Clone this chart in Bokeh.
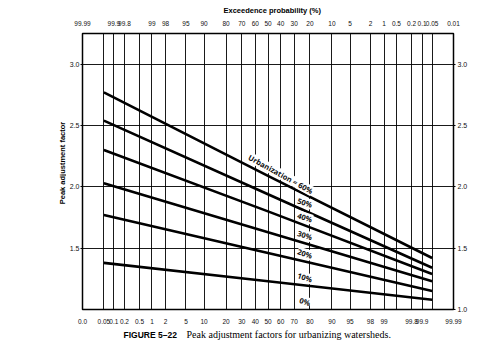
import math
import numpy as np
from bokeh.plotting import figure
from bokeh.models import FixedTicker, LinearAxis, Range1d, ColumnDataSource, Title
from bokeh.layouts import column, row
from bokeh.core.properties import value
from bokeh.embed import file_html
from bokeh.resources import INLINE

# ---------------- data ----------------
grid_probs = [0.01, 0.05, 0.1, 0.2, 0.5, 1, 2, 5, 10, 20, 30, 40, 50, 60, 70,
              80, 90, 95, 98, 99, 99.5, 99.8, 99.9, 99.95, 99.99]
bottom_probs = [0.01, 0.05, 0.1, 0.2, 0.5, 1, 2, 5, 10, 20, 30, 40, 50, 60, 70,
                80, 90, 95, 98, 99, 99.8, 99.9, 99.99]
bottom_labels = ["0.0", "0.05", "0.1", "0.2", "0.5", "1", "2", "5", "10", "20",
                 "30", "40", "50", "60", "70", "80", "90", "95", "98", "99",
                 "99.8", "99.9", "99.99"]
top_exceed = [99.99, 99.9, 99.8, 99, 98, 95, 90, 80, 70, 60, 50, 40, 30, 20,
              10, 5, 2, 1, 0.5, 0.2, 0.1, 0.05, 0.01]
top_labels = ["99.99", "99.9", "99.8", "99", "98", "95", "90", "80", "70", "60",
              "50", "40", "30", "20", "10", "5", "2", "1", "0.5", "0.2", "0.1",
              "0.05", "0.01"]
y_left_ticks = [1.5, 2.0, 2.5, 3.0]
y_right_ticks = [1.0, 1.5, 2.0, 2.5, 3.0]

curve_probs = [0.05, 50, 99.95]          # non-exceedance probability (%)
urbanization = ["60%", "50%", "40%", "30%", "20%", "10%", "0%"]
f60 = [2.77, 2.09, 1.42]
f50 = [2.54, 1.94, 1.34]
f40 = [2.30, 1.80, 1.29]
f30 = [2.03, 1.63, 1.23]
f20 = [1.77, 1.46, 1.15]
f10 = [1.38, 1.23, 1.08]
f0 = [1.00, 1.00, 1.00]
curves = [f60, f50, f40, f30, f20, f10, f0]
curve_texts = ["Urbanization = 60%", "50%", "40%", "30%", "20%", "10%", "0%"]

x_title = "Exceedence probability (%)"
y_title = "Peak adjustment factor"
caption_head = "FIGURE 5\u201322"
caption_body = "Peak adjustment factors for urbanizing watersheds."


def z_of(pct):
    p = pct / 100.0
    lo, hi = -10.0, 10.0
    for _ in range(200):
        mid = (lo + hi) / 2
        if 0.5 * (1 + math.erf(mid / math.sqrt(2))) < p:
            lo = mid
        else:
            hi = mid
    return (lo + hi) / 2


grid_z = [z_of(v) for v in grid_probs]
bottom_z = [z_of(v) for v in bottom_probs]
top_z = [z_of(100 - v) for v in top_exceed]
curve_z = [z_of(v) for v in curve_probs]

TOTAL_W = 484
YSTRIP_W = 66
MAIN_H = 326
CAP_H = 24

# ---------------- main figure ----------------
p = figure(width=TOTAL_W - YSTRIP_W, height=MAIN_H, output_backend="svg",
           toolbar_location=None,
           x_range=Range1d(z_of(0.01), z_of(99.99)), y_range=Range1d(1.0, 3.25),
           min_border_left=16, min_border_right=31, min_border_top=31,
           min_border_bottom=14)
p.background_fill_color = "white"
p.border_fill_color = "white"
p.outline_line_color = "black"
p.outline_line_width = 1.5


def style_x(ax, standoff):
    ax.major_tick_line_color = None
    ax.minor_tick_line_color = None
    ax.axis_line_color = None
    ax.major_label_standoff = standoff
    ax.major_label_text_font = "Liberation Sans"
    ax.major_label_text_font_size = "6.5px"
    ax.major_label_text_color = "#111111"


def style_y(ax, standoff):
    ax.major_tick_out = 2
    ax.major_tick_in = 0
    ax.major_tick_line_color = "black"
    ax.minor_tick_line_color = None
    ax.axis_line_color = None
    ax.major_label_standoff = standoff
    ax.major_label_text_font = "Liberation Sans"
    ax.major_label_text_font_size = "7px"
    ax.major_label_text_color = "#111111"


xb = p.xaxis[0]
xb.ticker = FixedTicker(ticks=bottom_z)
xb.major_label_overrides = {z: s for z, s in zip(bottom_z, bottom_labels)}
style_x(xb, 3)

xt = LinearAxis(ticker=FixedTicker(ticks=top_z))
xt.major_label_overrides = {z: s for z, s in zip(top_z, top_labels)}
style_x(xt, 2)
p.add_layout(xt, "above")

p.add_layout(Title(text=x_title, align="left", offset=141, standoff=6,
                   text_font="Liberation Sans", text_font_size="7.5px",
                   text_font_style="bold", text_color="black"), "above")

yl = p.yaxis[0]
yl.ticker = FixedTicker(ticks=y_left_ticks)
yl.major_label_overrides = {v: f"{v:.1f}" for v in y_left_ticks}
style_y(yl, 1)

yr = LinearAxis(ticker=FixedTicker(ticks=y_right_ticks))
yr.major_label_overrides = {v: f"{v:.1f}" for v in y_right_ticks}
style_y(yr, 2)
p.add_layout(yr, "right")

p.xgrid.ticker = FixedTicker(ticks=grid_z)
p.xgrid.grid_line_color = "black"
p.xgrid.grid_line_width = 0.9
p.ygrid.ticker = FixedTicker(ticks=y_left_ticks)
p.ygrid.grid_line_color = "black"
p.ygrid.grid_line_width = 0.9

# curves (0% coincides with the bottom border)
for vals, name in zip(curves, urbanization):
    if name == "0%":
        continue
    p.line(curve_z, vals, line_color="black", line_width=2.6)

# curve labels
label_pos_pct = [60, 77, 77, 77, 77, 77, 77]
label_angle = [-29, -18, -18, -18, -18, -18, -18]
lx, ly = [], []
for vals, lp in zip(curves, label_pos_pct):
    zz = z_of(lp)
    lx.append(zz)
    ly.append(float(np.interp(zz, curve_z, vals)))
src = ColumnDataSource(dict(x=lx, y=ly, t=curve_texts,
                            a=[math.radians(a) for a in label_angle]))
p.text(x="x", y="y", text="t", angle="a", source=src, y_offset=-8,
       text_align="center", text_baseline="middle",
       text_font=value("Open Sans"), text_font_size="7.5px",
       text_font_style="bold", text_color="#111111",
       background_fill_color="white", padding=0)


def strip(width, height):
    f = figure(width=width, height=height, output_backend="svg",
               toolbar_location=None, x_axis_type=None, y_axis_type=None,
               x_range=Range1d(0, width), y_range=Range1d(0, height),
               min_border=0)
    f.min_border_left = f.min_border_right = 0
    f.min_border_top = f.min_border_bottom = 0
    f.outline_line_color = None
    f.background_fill_color = "white"
    f.border_fill_color = "white"
    f.grid.visible = False
    return f


# y-axis title strip
ys = strip(YSTRIP_W, MAIN_H)
ys.text(x=[62], y=[MAIN_H - 153], text=[y_title], angle=math.pi / 2,
        text_align="center", text_baseline="middle",
        text_font=value("Liberation Sans"), text_font_size="7.5px",
        text_font_style="bold", text_color="black")

# caption strip
cs = strip(TOTAL_W, CAP_H)
cs.text(x=[123], y=[CAP_H - 8], text=[caption_head], text_align="left",
        text_baseline="middle", text_font=value("Liberation Sans"),
        text_font_size="8.5px", text_font_style="bold", text_color="black")
cs.text(x=[186], y=[CAP_H - 8], text=[caption_body], text_align="left",
        text_baseline="middle", text_font=value("Liberation Serif"),
        text_font_size="10px", text_color="black")

layout = column(row(ys, p), cs)
open("out.html", "w").write(file_html(layout, INLINE))
